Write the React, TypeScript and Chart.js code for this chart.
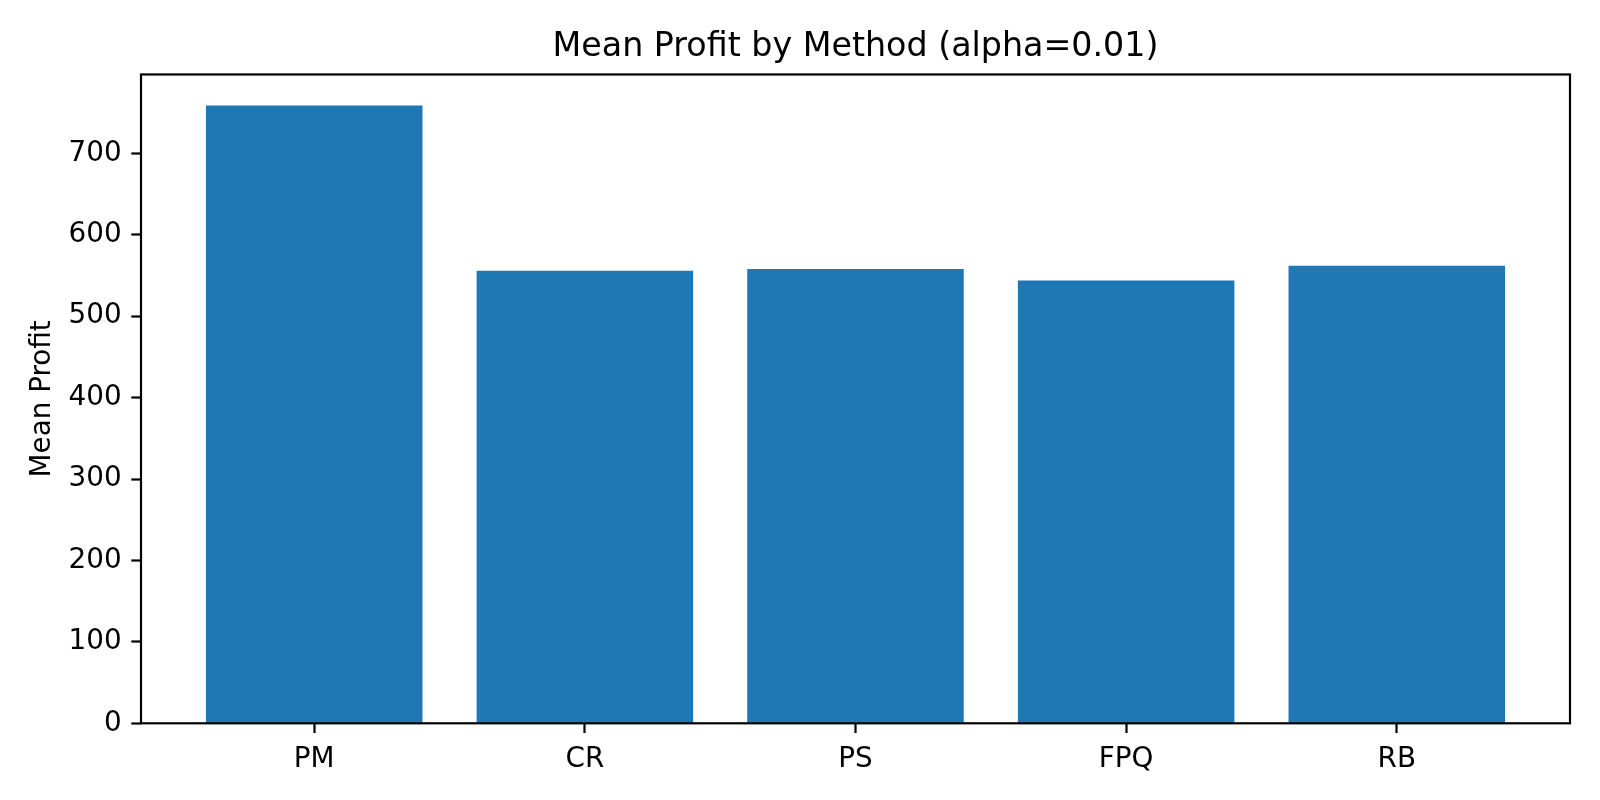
import { useEffect, useRef } from 'react';
import { Chart, registerables, type Plugin } from 'chart.js';

Chart.register(...registerables);

const methods = ['PM', 'CR', 'PS', 'FPQ', 'RB'];
const meanProfit = [759, 556, 558, 544, 562];
const yTicks = [0, 100, 200, 300, 400, 500, 600, 700];
const yMax = 797;

const FONT = '"DejaVu Sans", sans-serif';

// matplotlib-style box around the plot area
const framePlugin: Plugin<'bar'> = {
  id: 'axesFrame',
  afterDatasetsDraw(chart) {
    const { ctx, chartArea } = chart;
    ctx.save();
    ctx.strokeStyle = '#000';
    ctx.lineWidth = 2.2;
    ctx.strokeRect(chartArea.left, chartArea.top, chartArea.right - chartArea.left, chartArea.bottom - chartArea.top);
    ctx.restore();
  },
};

export default function App() {
  const canvasRef = useRef<HTMLCanvasElement>(null);

  useEffect(() => {
    const canvas = canvasRef.current;
    if (!canvas) return;

    const chart = new Chart(canvas, {
      type: 'bar',
      data: {
        datasets: [
          {
            label: 'Mean Profit',
            data: meanProfit.map((v, i) => ({ x: i, y: v })),
            backgroundColor: '#1f77b4',
            borderWidth: 0,
            categoryPercentage: 1,
            barPercentage: 0.8,
          },
        ],
      },
      options: {
        responsive: true,
        maintainAspectRatio: false,
        animation: false,
        layout: { padding: { left: 0, right: 30, top: 0, bottom: 0 } },
        plugins: {
          legend: { display: false },
          tooltip: { enabled: false },
          title: {
            display: true,
            fullSize: false,
            text: 'Mean Profit by Method (alpha=0.01)',
            color: '#000',
            font: { family: FONT, size: 33.3, weight: 'normal', lineHeight: 1.2 },
            padding: { top: 27.8, bottom: 6.7 },
          },
        },
        scales: {
          x: {
            type: 'linear',
            min: -0.64,
            max: 4.64,
            offset: false,
            afterBuildTicks: (scale) => {
              scale.ticks = methods.map((_, i) => ({ value: i }));
            },
            afterFit: (scale) => {
              scale.height = 76.7;
            },
            ticks: {
              color: '#000',
              font: { family: FONT, size: 27.8 },
              padding: 9.7,
              autoSkip: false,
              maxRotation: 0,
              callback: (v) => methods[Number(v)] ?? '',
            },
            grid: {
              offset: false,
              drawOnChartArea: false,
              tickLength: 9.7,
              tickWidth: 2.2,
              tickColor: '#000',
            },
            border: { display: false },
          },
          y: {
            min: 0,
            max: yMax,
            afterBuildTicks: (scale) => {
              scale.ticks = yTicks.map((v) => ({ value: v }));
            },
            afterFit: (scale) => {
              scale.width = 141;
            },
            ticks: {
              color: '#000',
              font: { family: FONT, size: 27.8 },
              padding: 9.7,
              callback: (v) => String(v),
            },
            grid: {
              drawOnChartArea: false,
              tickLength: 9.7,
              tickWidth: 2.2,
              tickColor: '#000',
            },
            border: { display: false },
            title: {
              display: true,
              text: 'Mean Profit',
              color: '#000',
              font: { family: FONT, size: 27.8, lineHeight: 1.2 },
              padding: { top: 26, bottom: 0 },
            },
          },
        },
      },
      plugins: [framePlugin],
    });

    return () => chart.destroy();
  }, []);

  return (
    <div style={{ position: 'fixed', left: 0, top: 0, width: 1600, height: 800, background: '#fff' }}>
      <canvas ref={canvasRef} />
    </div>
  );
}
